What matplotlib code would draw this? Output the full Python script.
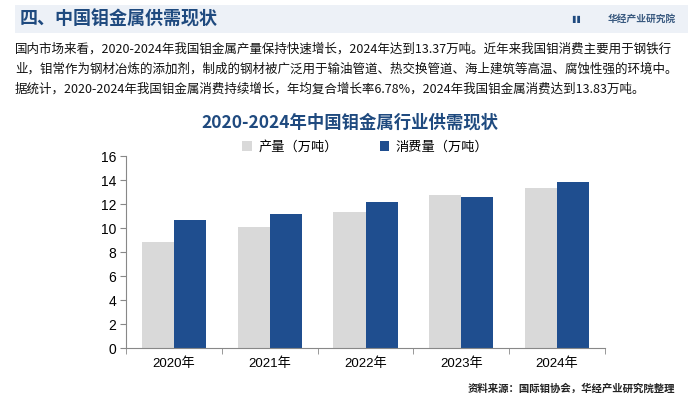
import matplotlib.pyplot as plt
import numpy as np

plt.rcParams['font.family'] = ['Noto Sans CJK SC', 'DejaVu Sans']

years = ['2020年', '2021年', '2022年', '2023年', '2024年']
production = [8.80, 10.05, 11.30, 12.79, 13.37]
consumption = [10.63, 11.13, 12.18, 12.59, 13.83]
yticks = [0, 2, 4, 6, 8, 10, 12, 14, 16]

gray = '#d9d9d9'
blue = '#1f4e8f'
navy = '#1f4a7f'
num_font = ['Liberation Sans', 'Noto Sans CJK SC']

fig = plt.figure(figsize=(7, 3.97), dpi=100)

# 顶部标题栏
band = fig.add_axes([15 / 700, 1 - 33 / 397, 673 / 700, 28 / 397])
band.set_facecolor('#edf1f7')
band.set_xticks([])
band.set_yticks([])
for s in band.spines.values():
    s.set_visible(False)

fig.text(20 / 700, 1 - 19 / 397, '四、中国钼金属供需现状', fontsize=13, fontweight='bold',
         color=navy, va='center')
fig.text(676 / 700, 1 - 19 / 397, '华经产业研究院', fontsize=7, fontweight='bold',
         color='#3a5a80', va='center', ha='right')
fig.text(572 / 700, 1 - 19 / 397, '▌▌', fontsize=5, color=navy, va='center',
         family=['DejaVu Sans'])

para = ['国内市场来看，2020-2024年我国钼金属产量保持快速增长，2024年达到13.37万吨。近年来我国钼消费主要用于钢铁行',
        '业，钼常作为钢材冶炼的添加剂，制成的钢材被广泛用于输油管道、热交换管道、海上建筑等高温、腐蚀性强的环境中。',
        '据统计，2020-2024年我国钼金属消费持续增长，年均复合增长率6.78%，2024年我国钼金属消费达到13.83万吨。']
for i, line in enumerate(para):
    fig.text(15 / 700, 1 - (49 + 20 * i) / 397, line, fontsize=9, color='#111111', va='center')

fig.text(350 / 700, 1 - 123 / 397, '2020-2024年中国钼金属行业供需现状', fontsize=12.5,
         fontweight='bold', color=navy, ha='center', va='center')

# 图表
ax = fig.add_axes([126 / 700, 49 / 397, 479 / 700, 192 / 397])
x = np.arange(len(years))
w = 0.335
ax.bar(x - w / 2, production, w, color=gray, label='产量（万吨）')
ax.bar(x + w / 2, consumption, w, color=blue, label='消费量（万吨）')

ax.set_xlim(-0.5, len(years) - 0.5)
ax.set_ylim(0, 16)
ax.set_yticks(yticks)
ax.set_yticklabels([str(v) for v in yticks], family=num_font, fontsize=10)
ax.set_xticks(x)
ax.set_xticklabels(years, family=num_font, fontsize=9.5)
ax.set_xticks(np.arange(-0.5, len(years), 1), minor=True)
ax.tick_params(axis='x', which='major', length=0, pad=7)
ax.tick_params(axis='x', which='minor', length=4, color='#888888', direction='out')
ax.tick_params(axis='y', length=4, color='#888888', pad=3)
for s in ['top', 'right']:
    ax.spines[s].set_visible(False)
for s in ['left', 'bottom']:
    ax.spines[s].set_color('#888888')

ax.legend(loc='center', bbox_to_anchor=(0.5, 1 + 9 / 192), ncol=2, frameon=False,
          fontsize=9.5, handlelength=0.7, handleheight=0.7, columnspacing=3.2,
          handletextpad=0.5, borderaxespad=0)

fig.text(675 / 700, 1 - 389 / 397, '资料来源：国际钼协会，华经产业研究院整理', fontsize=7.5,
         fontweight='bold', color='#222222', ha='right', va='center')

fig.savefig('out.png', dpi=100)
